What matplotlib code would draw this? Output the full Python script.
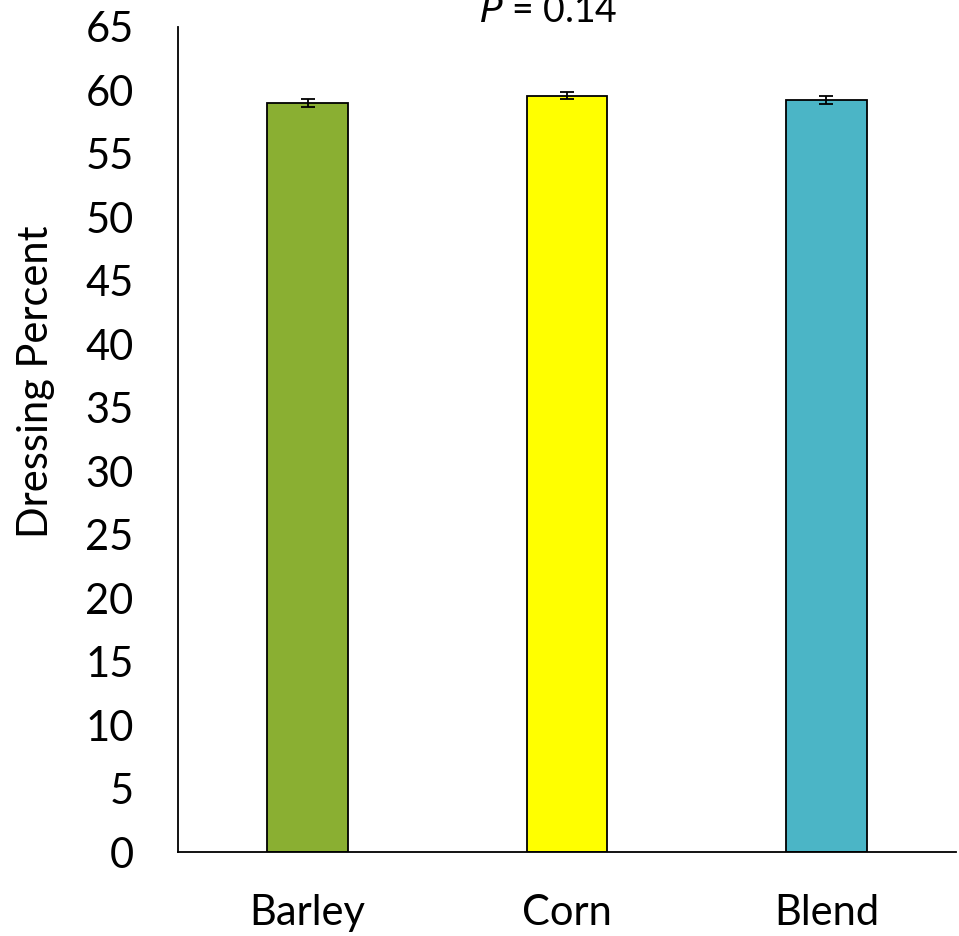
import matplotlib
matplotlib.use("Agg")
import matplotlib.pyplot as plt

plt.rcParams['font.family'] = ['Lato', 'DejaVu Sans']

# data
diets = ["Barley", "Corn", "Blend"]
dressing = [59.0, 59.6, 59.25]
sem = [0.3, 0.3, 0.3]
colors = ["#8AAF32", "#FFFF00", "#4BB5C6"]

fig = plt.figure(figsize=(9.59, 9.36), dpi=100)
ax = fig.add_axes([178 / 959, 1 - 852 / 936, 778 / 959, 825 / 936])

x = range(len(diets))
ax.bar(x, dressing, width=0.31, color=colors, edgecolor="black", linewidth=1.3,
       yerr=sem, capsize=5, error_kw=dict(elinewidth=1.3, capthick=1.3, ecolor="black"))

ax.set_xlim(-0.5, 2.5)
ax.set_ylim(0, 65)
ax.set_yticks(range(0, 66, 5))
ax.set_xticks(list(x))
ax.set_xticklabels(diets)
ax.tick_params(axis="both", length=0, labelsize=30)
ax.tick_params(axis="y", pad=32)
ax.tick_params(axis="x", pad=30)

for s in ["top", "right"]:
    ax.spines[s].set_visible(False)
for s in ["left", "bottom"]:
    ax.spines[s].set_linewidth(1.3)

ax.set_ylabel("Dressing Percent", fontsize=30)
ax.yaxis.set_label_coords(-0.158, 0.57)

# title sits partly above the top edge, as in the original
fig.text(548 / 959, 1 - 22 / 936, "$\\it{P}$ = 0.14", fontsize=27, ha="center", va="baseline")

fig.savefig("out.png", dpi=100)
